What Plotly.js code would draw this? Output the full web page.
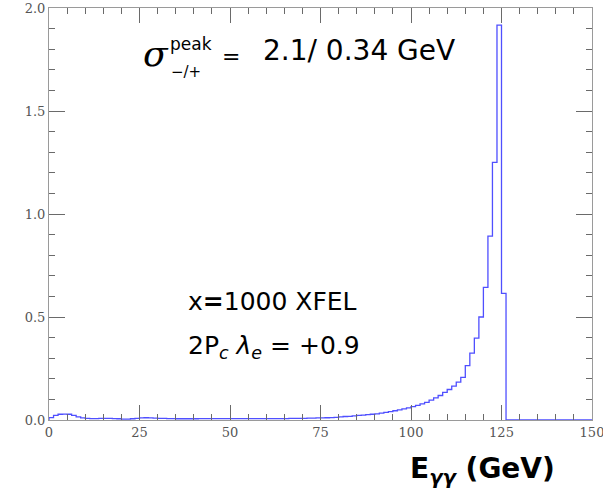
<!DOCTYPE html>
<html>
<head>
<meta charset="utf-8">
<script src="https://cdn.plot.ly/plotly-3.0.1.min.js"></script>
<style>html,body{margin:0;padding:0;background:#fff;}</style>
</head>
<body>
<div id="chart" style="width:603px;height:498px;"></div>
<script>
// Histogram of E_gamma-gamma (GeV), bins of 1.25 GeV starting at 0
var binStart = 0;
var binWidth = 1.25;
var binValues = [
  0.012, 0.022, 0.028, 0.029, 0.028, 0.022, 0.015, 0.010,   // 0 - 10
  0.008, 0.007, 0.007, 0.008, 0.008, 0.008, 0.007, 0.006,   // 10 - 20
  0.004, 0.004, 0.006, 0.008, 0.010, 0.011, 0.010, 0.009,   // 20 - 30
  0.008, 0.008, 0.007, 0.007, 0.006, 0.006, 0.006, 0.006,   // 30 - 40
  0.006, 0.007, 0.007, 0.007, 0.007, 0.007, 0.007, 0.007,   // 40 - 50
  0.007, 0.007, 0.007, 0.007, 0.007, 0.007, 0.007, 0.007,   // 50 - 60
  0.007, 0.007, 0.007, 0.007, 0.007, 0.008, 0.008, 0.008,   // 60 - 70
  0.008, 0.009, 0.009, 0.010, 0.010, 0.011, 0.012, 0.013,   // 70 - 80
  0.015, 0.017, 0.018, 0.020, 0.022, 0.024, 0.026, 0.028,   // 80 - 90
  0.030, 0.033, 0.037, 0.041, 0.045, 0.049, 0.054, 0.059,   // 90 - 100
  0.065, 0.071, 0.078, 0.086, 0.096, 0.107, 0.119, 0.134,   // 100 - 110
  0.148, 0.164, 0.184, 0.207, 0.264, 0.325, 0.397, 0.500,   // 110 - 120
  0.644, 0.893, 1.251, 1.917, 0.615                         // 120 - 126.25
];
var xRange = [0, 150];
var yRange = [0, 2.0];
var xMajor = 25, xMinor = 5, yMajor = 0.5, yMinor = 0.1;

// build histogram outline (step) from bin values
var xs = [binStart], ys = [0];
for (var i = 0; i < binValues.length; i++) {
  xs.push(binStart + i * binWidth);
  ys.push(binValues[i]);
}
xs.push(binStart + binValues.length * binWidth); ys.push(0);
xs.push(xRange[1]); ys.push(0);

var L = 49, R = 11, T = 8, B = 78, W = 603, H = 498;
function px(x) { return (x - L) / (W - L - R); }
function py(y) { return (H - B - y) / (H - T - B); }

var tickCol = '#6a6a6a';
var axisCommon = {
  showgrid: false, zeroline: false,
  showline: true, linecolor: '#9a9a9a', linewidth: 1,
  mirror: 'allticks', ticks: 'inside', tickcolor: tickCol, tickwidth: 1,
  ticklabeloverflow: 'allow',
  tickfont: {family: 'DejaVu Serif', size: 13, color: '#555'}
};
function overlay(base, extra) {
  return Object.assign({}, axisCommon, {mirror: false, showticklabels: false}, base, extra);
}

var layout = {
  width: W, height: H,
  margin: {l: L, r: R, t: T, b: B},
  paper_bgcolor: '#fff', plot_bgcolor: '#fff',
  showlegend: false,
  xaxis: Object.assign({}, axisCommon, {range: xRange, tick0: 0, dtick: xMajor, ticklen: 15,
    minor: {dtick: xMinor, ticklen: 6, ticks: 'inside', tickcolor: tickCol, showgrid: false}}),
  yaxis: Object.assign({}, axisCommon, {range: yRange, tick0: 0, dtick: yMajor, ticklen: 16, tickformat: '.1f',
    minor: {dtick: yMinor, ticklen: 6, ticks: 'inside', tickcolor: tickCol, showgrid: false}}),
  // top / right tick marks (mirrored frame ticks)
  xaxis2: overlay({range: xRange, tick0: 0, dtick: xMajor, ticklen: 14}, {overlaying: 'x', side: 'top', anchor: 'y'}),
  xaxis3: overlay({range: xRange, tick0: 0, dtick: xMinor, ticklen: 6}, {overlaying: 'x', side: 'top', anchor: 'y'}),
  yaxis2: overlay({range: yRange, tick0: 0, dtick: yMajor, ticklen: 16}, {overlaying: 'y', side: 'right', anchor: 'x'}),
  yaxis3: overlay({range: yRange, tick0: 0, dtick: yMinor, ticklen: 6}, {overlaying: 'y', side: 'right', anchor: 'x'}),
  annotations: [
    {xref: 'paper', yref: 'paper', x: px(141), y: py(54), xanchor: 'left', yanchor: 'middle',
     text: '<i>σ</i>', showarrow: false, font: {family: 'DejaVu Serif', size: 36, color: '#000'}},
    {xref: 'paper', yref: 'paper', x: px(168), y: py(44), xanchor: 'left', yanchor: 'middle',
     text: 'peak', showarrow: false, font: {family: 'DejaVu Sans', size: 17, color: '#000'}},
    {xref: 'paper', yref: 'paper', x: px(169), y: py(72), xanchor: 'left', yanchor: 'middle',
     text: '−/+', showarrow: false, font: {family: 'DejaVu Sans', size: 15, color: '#000'}},
    {xref: 'paper', yref: 'paper', x: px(231), y: py(57), xanchor: 'center', yanchor: 'middle',
     text: '=', showarrow: false, font: {family: 'DejaVu Sans', size: 22, color: '#000'}},
    {xref: 'paper', yref: 'paper', x: px(359), y: py(51), xanchor: 'center', yanchor: 'middle',
     text: '2.1/ 0.34 GeV', showarrow: false, font: {family: 'DejaVu Sans', size: 28, color: '#000'}},
    {xref: 'paper', yref: 'paper', x: px(186), y: py(301), xanchor: 'left', yanchor: 'middle',
     text: 'x<b>=</b>1000 XFEL', showarrow: false, font: {family: 'DejaVu Sans', size: 25, color: '#000'}},
    {xref: 'paper', yref: 'paper', x: px(186), y: py(347), xanchor: 'left', yanchor: 'middle',
     text: '2P<sub><i>c</i></sub> <i>λ</i><sub><i>e</i></sub> = +0.9', showarrow: false,
     font: {family: 'DejaVu Sans', size: 25, color: '#000'}},
    {xref: 'paper', yref: 'paper', x: px(482), y: py(470), xanchor: 'center', yanchor: 'middle',
     text: '<b>E<sub><i>γγ</i></sub> (GeV)</b>', showarrow: false,
     font: {family: 'DejaVu Sans', size: 28, color: '#000'}}
  ]
};

var trace = {
  type: 'scatter', mode: 'lines', x: xs, y: ys,
  line: {shape: 'hv', color: '#4f4fff', width: 1.3},
  hoverinfo: 'skip', cliponaxis: true
};
// invisible traces so the top/right tick axes are drawn
function frameTrace(xa, ya) {
  return {type: 'scatter', mode: 'markers', x: [xRange[0]], y: [yRange[0]],
    marker: {size: 1, opacity: 0}, xaxis: xa, yaxis: ya, hoverinfo: 'skip'};
}

Plotly.newPlot('chart', [trace, frameTrace('x2', 'y2'), frameTrace('x3', 'y3')], layout,
  {displayModeBar: false, staticPlot: true});
</script>
</body>
</html>
